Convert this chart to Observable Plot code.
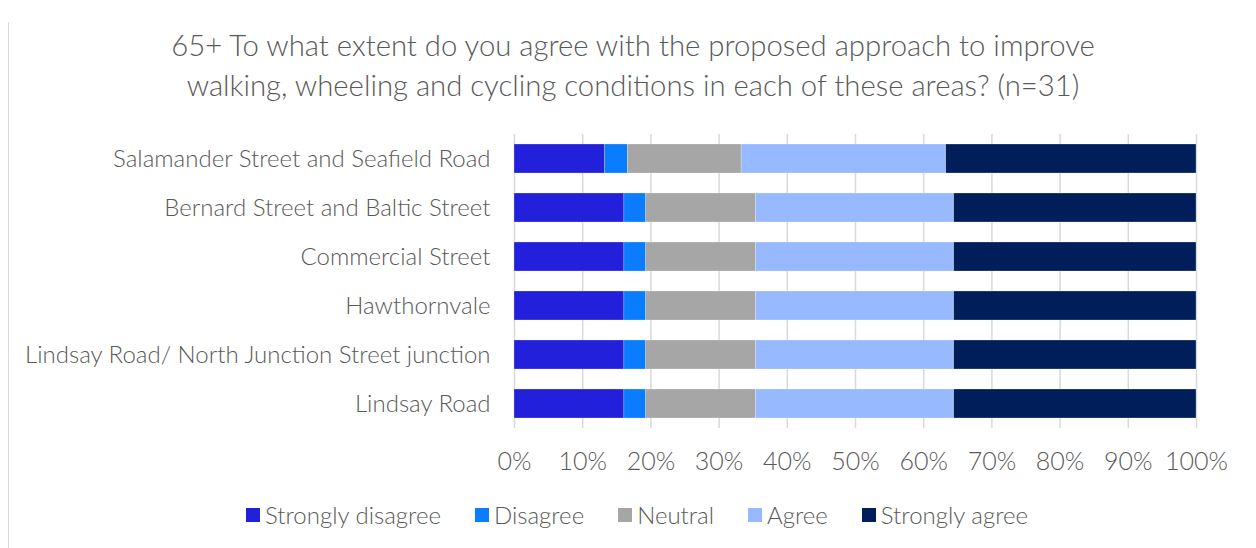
<!DOCTYPE html>
<html>
<head>
<meta charset="utf-8">
<script src="https://cdn.jsdelivr.net/npm/d3@7"></script>
<script src="https://cdn.jsdelivr.net/npm/@observablehq/plot@0.6"></script>
<style>
  html, body { margin: 0; padding: 0; background: #fff; }
  body { width: 1256px; height: 548px; overflow: hidden; position: relative; font-family: Lato, "Noto Sans", sans-serif; font-weight: 300; color: #595959; }
  #frame { position: absolute; left: 8px; top: 22px; width: 0; height: 530px; border-left: 1.5px solid #d9d9d9; }
  #title { position: absolute; left: 0; top: 25px; width: 1266px; text-align: center; font-size: 29.3px; line-height: 40px; color: #595959; }
  #chart { position: absolute; left: 0; top: 120px; }
  #legend { position: absolute; left: 0; top: 500px; width: 1274px; display: flex; justify-content: center; font-size: 24px; color: #595959; }
  .item { display: flex; align-items: center; margin: 0 17px; }
  .sw { width: 14px; height: 14px; margin-right: 5px; }
</style>
</head>
<body>
<div id="frame"></div>
<div id="title">65+ To what extent do you agree with the proposed approach to improve<br>walking, wheeling and cycling conditions in each of these areas? (n=31)</div>
<div id="chart"></div>
<div id="legend"></div>
<script>
const categories = [
  "Salamander Street and Seafield Road",
  "Bernard Street and Baltic Street",
  "Commercial Street",
  "Hawthornvale",
  "Lindsay Road/ North Junction Street junction",
  "Lindsay Road"
];
const responses = ["Strongly disagree", "Disagree", "Neutral", "Agree", "Strongly agree"];
const colors = ["#2320dc", "#0a7cff", "#a6a6a6", "#97b9ff", "#001f5a"];
const stronglyDisagree = [13.3, 16.1, 16.1, 16.1, 16.1, 16.1];
const disagree        = [3.3, 3.2, 3.2, 3.2, 3.2, 3.2];
const neutral         = [16.7, 16.1, 16.1, 16.1, 16.1, 16.1];
const agree           = [30.0, 29.0, 29.0, 29.0, 29.0, 29.0];
const stronglyAgree   = [36.7, 35.5, 35.5, 35.5, 35.5, 35.5];
const xTicks = [0, 0.1, 0.2, 0.3, 0.4, 0.5, 0.6, 0.7, 0.8, 0.9, 1];

const series = [stronglyDisagree, disagree, neutral, agree, stronglyAgree];
const data = [];
categories.forEach((c, i) => {
  responses.forEach((r, j) => data.push({category: c, response: r, value: series[j][i]}));
});

const plot = Plot.plot({
  width: 1256,
  height: 370,
  marginLeft: 514,
  marginRight: 60,
  marginTop: 14,
  marginBottom: 62,
  style: {fontFamily: "Lato, 'Noto Sans', sans-serif", fontWeight: 300, color: "#595959", background: "transparent"},
  x: {domain: [0, 1], ticks: xTicks, label: null, tickFormat: d => Math.round(d * 100) + "%"},
  y: {domain: categories, paddingInner: 0.41, paddingOuter: 0.205, label: null},
  color: {domain: responses, range: colors},
  marks: [
    Plot.ruleX(xTicks, {stroke: "#d9d9d9", strokeWidth: 1.5}),
    Plot.barX(data, Plot.stackX({x: "value", y: "category", fill: "response", order: responses, offset: "normalize", stroke: "#fff", strokeWidth: 0.4, strokeOpacity: 0.6})),
    Plot.axisX({ticks: xTicks, label: null, tickFormat: d => Math.round(d * 100) + "%", tickSize: 0, tickPadding: 24, fontSize: 25, fill: "#595959"}),
    Plot.axisY({label: null, tickSize: 0, tickPadding: 24, fontSize: 24, fill: "#595959"})
  ]
});
document.getElementById("chart").appendChild(plot);

const legend = document.getElementById("legend");
responses.forEach((r, j) => {
  const item = document.createElement("div");
  item.className = "item";
  const sw = document.createElement("div");
  sw.className = "sw";
  sw.style.background = colors[j];
  const t = document.createElement("span");
  t.textContent = r;
  item.appendChild(sw);
  item.appendChild(t);
  legend.appendChild(item);
});
</script>
</body>
</html>
